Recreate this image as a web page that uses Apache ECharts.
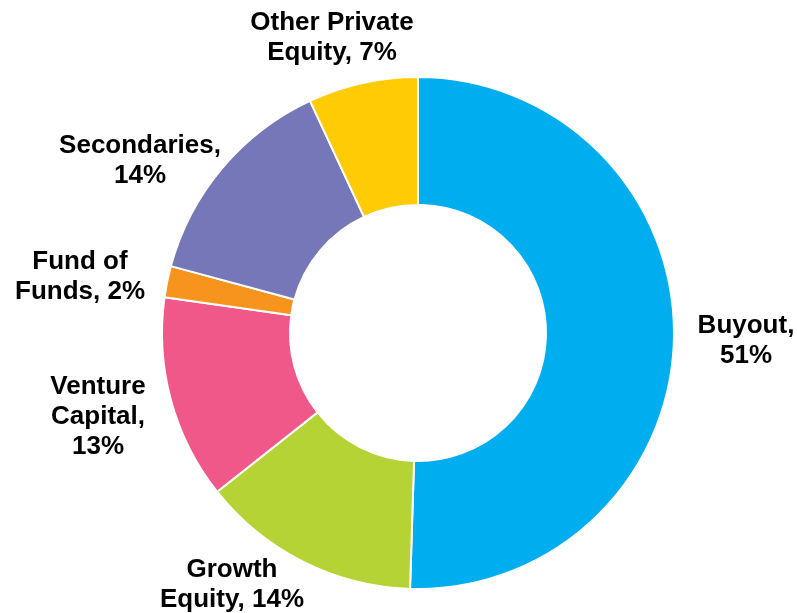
<!DOCTYPE html>
<html>
<head>
<meta charset="utf-8">
<script src="https://cdn.jsdelivr.net/npm/echarts@6/dist/echarts.min.js"></script>
<style>
  html, body { margin: 0; padding: 0; background: #ffffff; }
  #chart { width: 797px; height: 613px; }
</style>
</head>
<body>
<div id="chart"></div>
<script>
// Private equity allocation by strategy (percent of total)
const categories = ['Buyout', 'Growth Equity', 'Venture Capital', 'Fund of Funds', 'Secondaries', 'Other Private Equity'];
const shares = [51, 14, 13, 2, 14, 7];
const sliceColors = ['#00AEEF', '#B5D334', '#F0588A', '#F7941D', '#7577B8', '#FFCB05'];

// Label wording with its line breaks; {v} is replaced by the slice value
const labelTemplates = [
  'Buyout,\n{v}%',
  'Growth\nEquity, {v}%',
  'Venture\nCapital,\n{v}%',
  'Fund of\nFunds, {v}%',
  'Secondaries,\n{v}%',
  'Other Private\nEquity, {v}%'
];

// Pie geometry and label anchors (offsets from the pie centre, px)
const pieCenter = [418, 333];
const pieRadius = [128, 256];
const labelOffsets = [
  [328, 8],
  [-186, 252],
  [-320, 84],
  [-338, -56],
  [-278, -172],
  [-86, -295]
];

const chart = echarts.init(document.getElementById('chart'), null, { renderer: 'canvas' });

chart.setOption({
  animation: false,
  backgroundColor: '#ffffff',
  series: [{
    type: 'pie',
    center: pieCenter,
    radius: pieRadius,
    startAngle: 90,
    clockwise: true,
    avoidLabelOverlap: false,
    data: categories.map((name, i) => ({
      name: name,
      value: shares[i],
      itemStyle: { color: sliceColors[i] }
    })),
    itemStyle: { borderColor: '#ffffff', borderWidth: 2 },
    emphasis: { disabled: true },
    label: {
      show: true,
      position: 'outside',
      formatter: p => labelTemplates[p.dataIndex].replace('{v}', p.value),
      fontFamily: '"Liberation Sans", Arial, sans-serif',
      fontWeight: 'bold',
      fontSize: 26,
      lineHeight: 30,
      color: '#000000'
    },
    labelLine: { show: false },
    labelLayout: p => ({
      x: pieCenter[0] + labelOffsets[p.dataIndex][0],
      y: pieCenter[1] + labelOffsets[p.dataIndex][1],
      align: 'center',
      verticalAlign: 'middle'
    })
  }]
});
</script>
</body>
</html>
